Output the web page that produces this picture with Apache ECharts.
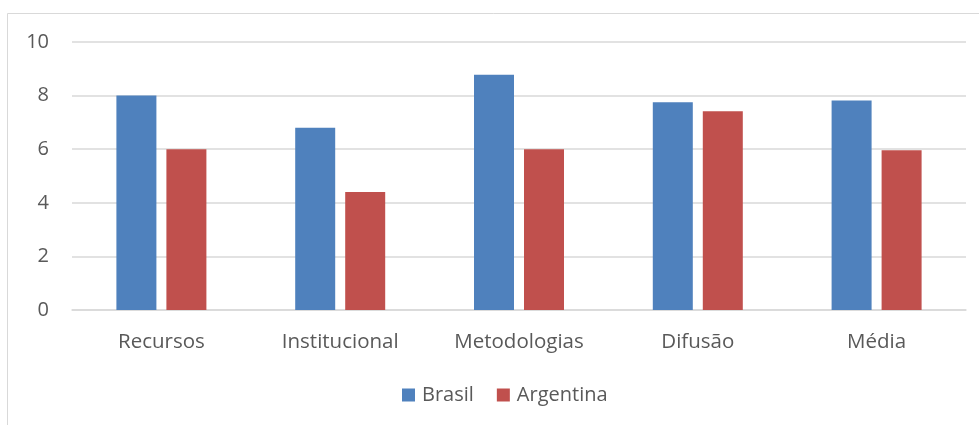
<!DOCTYPE html>
<html><head><meta charset="utf-8">
<script src="https://cdn.jsdelivr.net/npm/echarts@6/dist/echarts.min.js"></script>
<style>html,body{margin:0;padding:0;background:#fff}#c{width:979px;height:425px}</style>
</head><body><div id="c"></div>
<script>
const categories = ['Recursos', 'Institucional', 'Metodologias', 'Difusão', 'Média'];
const brasil = [8.0, 6.8, 8.78, 7.75, 7.82];
const argentina = [6.0, 4.4, 6.0, 7.42, 5.96];
const yTicks = [0, 2, 4, 6, 8, 10];

const FONT = 'Open Sans';
const chart = echarts.init(document.getElementById('c'), null, {renderer: 'canvas'});
chart.setOption({
  animation: false,
  backgroundColor: '#fff',
  graphic: [{
    type: 'polyline', silent: true,
    shape: {points: [[7.5, 430], [7.5, 13.5], [990, 13.5]]},
    style: {stroke: '#d9d9d9', lineWidth: 1, fill: null}
  }],
  grid: {left: 72, right: 13, top: 42, bottom: 115, containLabel: false},
  legend: {
    top: 380, left: 397, itemWidth: 13, itemHeight: 13, itemGap: 23,
    icon: 'rect',
    textStyle: {fontFamily: FONT, fontSize: 20, color: '#595959', padding: [0, 0, 0, 2]},
    data: ['Brasil', 'Argentina']
  },
  xAxis: {
    type: 'category', data: categories,
    axisLine: {lineStyle: {color: '#d9d9d9', width: 1.5}},
    axisTick: {show: false},
    axisLabel: {fontFamily: FONT, fontSize: 20.5, color: '#595959', margin: 22}
  },
  yAxis: {
    type: 'value', min: yTicks[0], max: yTicks[yTicks.length - 1], interval: 2,
    axisLine: {show: false}, axisTick: {show: false},
    splitLine: {lineStyle: {color: '#d9d9d9', width: 1.5}},
    axisLabel: {fontFamily: FONT, fontSize: 20, color: '#595959', margin: 23}
  },
  series: [
    {name: 'Brasil', type: 'bar', data: brasil, barWidth: 40, barGap: '25%',
     itemStyle: {color: '#4f81bd'}},
    {name: 'Argentina', type: 'bar', data: argentina, barWidth: 40,
     itemStyle: {color: '#c0504d'}}
  ]
});
</script></body></html>
